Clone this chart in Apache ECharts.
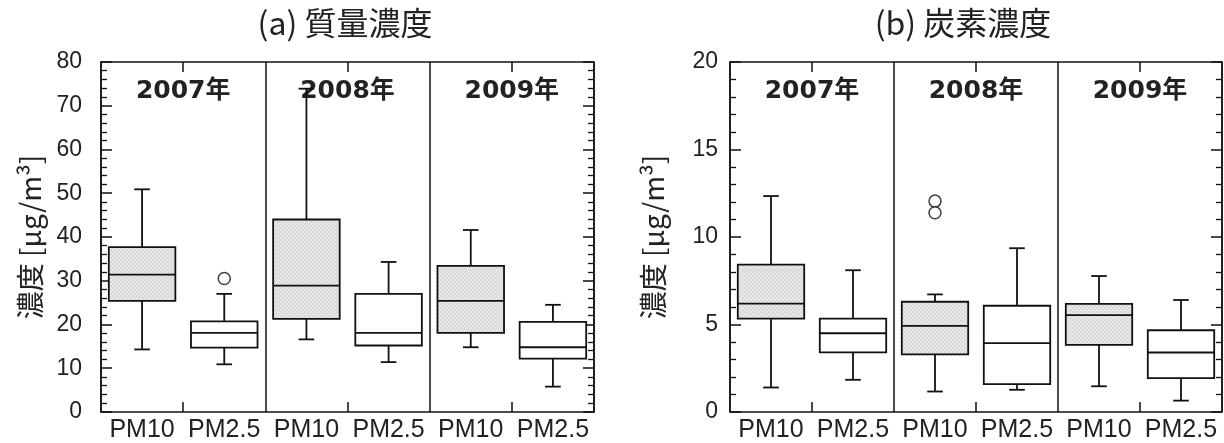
<!DOCTYPE html>
<html><head><meta charset="utf-8">
<script src="https://cdn.jsdelivr.net/npm/echarts@6/dist/echarts.min.js"></script>
<style>html,body{margin:0;padding:0;background:#fff}#c{width:1224px;height:443px}</style>
</head><body><div id="c"></div>
<script>
// ---- data ----
const years = ['2007年', '2008年', '2009年'];
const categories = ['2007 PM10', '2007 PM2.5', '2008 PM10', '2008 PM2.5', '2009 PM10', '2009 PM2.5'];
const xLabels = ['PM10', 'PM2.5', 'PM10', 'PM2.5', 'PM10', 'PM2.5'];
// each box: [lower whisker, Q1, median, Q3, upper whisker]
const massBoxes = [
  [14.3, 25.4, 31.4, 37.7, 50.9],
  [10.9, 14.7, 18.1, 20.7, 27.0],
  [16.6, 21.3, 28.9, 44.0, 73.9],
  [11.4, 15.2, 18.1, 27.0, 34.3],
  [14.8, 18.1, 25.4, 33.4, 41.6],
  [5.8, 12.2, 14.8, 20.6, 24.5]
];
const massOutliers = [[1, 30.5]];
const carbonBoxes = [
  [1.40, 5.34, 6.19, 8.42, 12.34],
  [1.84, 3.41, 4.50, 5.34, 8.10],
  [1.17, 3.29, 4.92, 6.30, 6.72],
  [1.27, 1.59, 3.94, 6.07, 9.36],
  [1.47, 3.83, 5.54, 6.18, 7.77],
  [0.65, 1.93, 3.40, 4.67, 6.40]
];
const carbonOutliers = [[2, 12.05], [2, 11.39]];
const massAxis = { min: 0, max: 80, interval: 10 };
const carbonAxis = { min: 0, max: 20, interval: 5 };
const titles = ['(a) 質量濃度', '(b) 炭素濃度'];
const yName = '濃度 [μg/m³]';

// ---- style ----
const INK = '#111';
const TXT = '#222';
const LATIN = "'Liberation Sans', 'Noto Sans CJK JP', sans-serif";

// stippled grey texture for PM10 boxes
const pat = document.createElement('canvas');
pat.width = 4; pat.height = 4;
(function () {
  const c = pat.getContext('2d');
  c.fillStyle = '#e8e8e8'; c.fillRect(0, 0, 4, 4);
  c.fillStyle = '#c9c9c9';
  [[0, 0], [2, 1], [1, 3], [3, 2]].forEach(function (p) { c.fillRect(p[0], p[1], 1, 1); });
})();
const shadeFill = { image: pat, repeat: 'repeat' };

function renderBox(params, api) {
  const x = api.value(0);
  const lo = api.coord([x, api.value(1)]);
  const q1 = api.coord([x, api.value(2)]);
  const md = api.coord([x, api.value(3)]);
  const q3 = api.coord([x, api.value(4)]);
  const hi = api.coord([x, api.value(5)]);
  const band = api.size([1, 0])[0];
  const bw = band * 0.81, cw = band * 0.19;
  const cx = md[0];
  const fill = xLabels[x] === 'PM10' ? shadeFill : '#ffffff';
  const ls = { stroke: INK, lineWidth: 1.8 };
  return {
    type: 'group', children: [
      { type: 'line', shape: { x1: cx, y1: hi[1], x2: cx, y2: q3[1] }, style: ls },
      { type: 'line', shape: { x1: cx, y1: q1[1], x2: cx, y2: lo[1] }, style: ls },
      { type: 'line', shape: { x1: cx - cw / 2, y1: hi[1], x2: cx + cw / 2, y2: hi[1] }, style: ls },
      { type: 'line', shape: { x1: cx - cw / 2, y1: lo[1], x2: cx + cw / 2, y2: lo[1] }, style: ls },
      { type: 'rect', shape: { x: cx - bw / 2, y: q3[1], width: bw, height: q1[1] - q3[1] }, style: { fill: fill, stroke: INK, lineWidth: 1.8 } },
      { type: 'line', shape: { x1: cx - bw / 2, y1: md[1], x2: cx + bw / 2, y2: md[1] }, style: ls }
    ]
  };
}

const grids = [
  { left: 101, right: 630, top: 62, bottom: 30, show: false },
  { left: 730, right: 2, top: 62, bottom: 30, show: false }
];
const axisLine = { show: true, onZero: false, lineStyle: { color: INK, width: 1.5 } };
const noLine = { show: false, onZero: false };

const xAxes = [], yAxes = [], series = [];
[[massBoxes, massOutliers, massAxis, 19], [carbonBoxes, carbonOutliers, carbonAxis, 12]].forEach(function (cfg, g) {
  const boxes = cfg[0], outl = cfg[1], ax = cfg[2], lblMargin = cfg[3];
  const xi = xAxes.length, yi = yAxes.length;
  // bottom: PM labels
  xAxes.push({
    type: 'category', gridIndex: g, data: categories, position: 'bottom',
    axisLine: axisLine, axisTick: { show: false },
    axisLabel: { formatter: function (v, i) { return xLabels[i]; }, color: TXT, fontSize: 25, fontFamily: LATIN, margin: 6, interval: 0 },
    splitLine: { show: false }
  });
  // top: years (ticks, labels inside, dividers)
  xAxes.push({
    type: 'category', gridIndex: g, data: years, position: 'top',
    axisLine: axisLine,
    axisTick: { show: true, alignWithLabel: true, inside: true, length: 10, lineStyle: { color: INK, width: 1.5 } },
    axisLabel: { inside: true, margin: 17, color: TXT, fontSize: 25, fontWeight: 'bold', fontFamily: "'DejaVu Sans', 'Noto Sans CJK JP', sans-serif" },
    splitLine: { show: true, lineStyle: { color: INK, width: 1.5 } }
  });
  // bottom: year ticks
  xAxes.push({
    type: 'category', gridIndex: g, data: years, position: 'bottom',
    axisLine: noLine,
    axisTick: { show: true, alignWithLabel: true, inside: true, length: 10, lineStyle: { color: INK, width: 1.5 } },
    axisLabel: { show: false }, splitLine: { show: false }
  });
  const tick = { show: true, inside: true, length: 11, lineStyle: { color: INK, width: 1.5 } };
  const minor = { show: true, splitNumber: 5, length: 6, lineStyle: { color: INK, width: 1.3 } };
  yAxes.push({
    type: 'value', gridIndex: g, position: 'left', min: ax.min, max: ax.max, interval: ax.interval,
    axisLine: axisLine, axisTick: tick, minorTick: minor, splitLine: { show: false },
    axisLabel: { color: TXT, fontSize: 23, fontFamily: LATIN, margin: lblMargin },
    name: yName, nameLocation: 'middle', nameRotate: 90, nameGap: g === 0 ? 57 : 63,
    nameTextStyle: { color: TXT, fontSize: 28, fontFamily: "'Noto Sans CJK JP', 'Liberation Sans', sans-serif" }
  });
  yAxes.push({
    type: 'value', gridIndex: g, position: 'right', min: ax.min, max: ax.max, interval: ax.interval,
    axisLine: axisLine, axisTick: tick, minorTick: minor, splitLine: { show: false },
    axisLabel: { show: false }
  });
  series.push({
    type: 'custom', xAxisIndex: xi, yAxisIndex: yi, renderItem: renderBox,
    encode: { x: 0, y: [1, 2, 3, 4, 5] },
    data: boxes.map(function (b, i) { return [i].concat(b); }), z: 3
  });
  series.push({
    type: 'scatter', xAxisIndex: xi, yAxisIndex: yi, symbol: 'circle', symbolSize: 12,
    itemStyle: { color: '#fff', borderColor: INK, borderWidth: 1.5 }, data: outl, z: 4
  });
});

const chart = echarts.init(document.getElementById('c'), null, { renderer: 'canvas' });
chart.setOption({
  animation: false,
  backgroundColor: '#fff',
  title: [
    { text: titles[0], left: 345, top: 7, padding: 0, textAlign: 'center', textStyle: { fontSize: 32, fontWeight: 'normal', color: TXT, fontFamily: "'Noto Sans CJK JP', sans-serif" } },
    { text: titles[1], left: 963, top: 7, padding: 0, textAlign: 'center', textStyle: { fontSize: 32, fontWeight: 'normal', color: TXT, fontFamily: "'Noto Sans CJK JP', sans-serif" } }
  ],
  grid: grids, xAxis: xAxes, yAxis: yAxes, series: series
});
</script></body></html>
